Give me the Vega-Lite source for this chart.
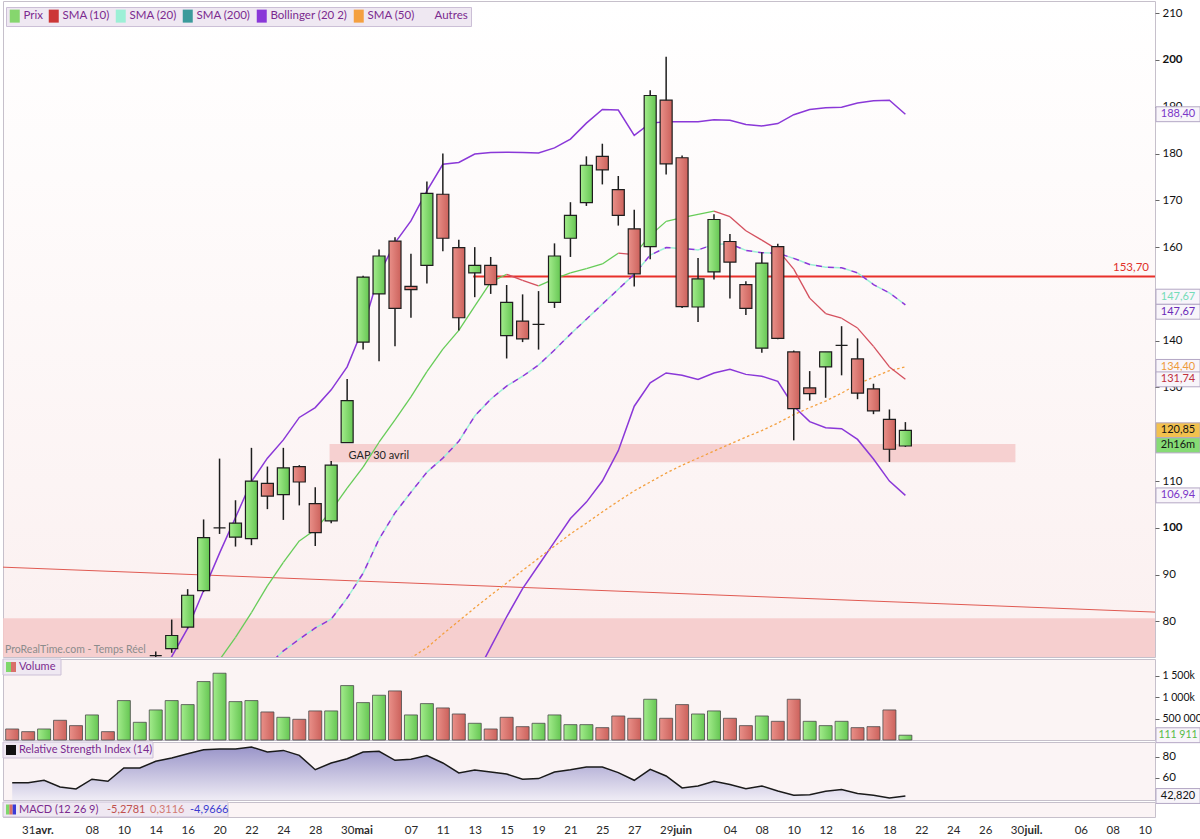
{
"$schema":"https://vega.github.io/schema/vega-lite/v6.json",
"padding":0,
"background":"#ffffff",
"spacing":2,
"bounds":"flush",
"config":{"view":{"stroke":"#c6c0cb","strokeWidth":1},"font":"Lato","text":{"font":"Lato"},"scale":{"continuousPadding":0}},
"datasets":{
"jours":[
{"i":0,"vol":258000,"sens":"baisse","rsi":55.5},
{"i":1,"vol":195000,"sens":"baisse","rsi":55.5},
{"i":2,"vol":258000,"sens":"hausse","rsi":57.8},
{"i":3,"vol":461000,"sens":"baisse","rsi":51.4},
{"i":4,"vol":336000,"sens":"baisse","rsi":49.5},
{"i":5,"vol":586000,"sens":"hausse","rsi":58.8},
{"i":6,"vol":195000,"sens":"baisse","rsi":56.9},
{"i":7,"vol":922000,"sens":"hausse","rsi":69.5},
{"i":8,"vol":414000,"sens":"hausse","rsi":69.5},
{"i":9,"o":72.7,"h":73.6,"l":71.0,"c":72.7,"vol":703000,"sens":"hausse","rsi":75.9,"bbh":67.0},
{"i":10,"o":74.2,"h":80.4,"l":73.3,"c":77.0,"vol":922000,"sens":"hausse","rsi":79.0,"bbh":72.5},
{"i":11,"o":78.8,"h":86.9,"l":78.5,"c":85.6,"vol":828000,"sens":"hausse","rsi":83.1,"bbh":78.5},
{"i":12,"o":86.6,"h":101.8,"l":86.3,"c":97.9,"vol":1367000,"sens":"hausse","rsi":87.0,"sma10":67.0,"bbh":86.6},
{"i":13,"o":100.0,"h":114.8,"l":98.7,"c":100.0,"vol":1562000,"sens":"hausse","rsi":87.6,"sma10":71.8,"bbh":94.6},
{"i":14,"o":98.0,"h":105.9,"l":96.0,"c":101.0,"vol":898000,"sens":"hausse","rsi":87.6,"sma10":76.6,"bbh":102.2},
{"i":15,"o":97.7,"h":117.1,"l":96.3,"c":110.0,"vol":922000,"sens":"hausse","rsi":89.5,"sma10":81.9,"sma20":67.5,"bbh":109.9},
{"i":16,"o":109.5,"h":113.1,"l":104.0,"c":106.8,"vol":656000,"sens":"baisse","rsi":84.8,"sma10":87.6,"sma20":70.5,"bbh":114.9},
{"i":17,"o":107.1,"h":117.1,"l":101.7,"c":112.8,"vol":531000,"sens":"hausse","rsi":86.3,"sma10":92.6,"sma20":73.7,"bbh":118.8},
{"i":18,"o":113.1,"h":113.4,"l":104.8,"c":109.8,"vol":484000,"sens":"baisse","rsi":81.6,"sma10":97.2,"sma20":76.2,"bbh":123.6},
{"i":19,"o":105.2,"h":108.7,"l":96.1,"c":99.0,"vol":680000,"sens":"baisse","rsi":67.9,"sma10":99.6,"sma20":78.6,"bbh":125.7},
{"i":20,"o":101.5,"h":114.3,"l":101.0,"c":113.4,"vol":680000,"sens":"hausse","rsi":74.3,"sma10":103.7,"sma20":80.5,"bbh":129.5},
{"i":21,"o":118.2,"h":131.8,"l":118.2,"c":127.2,"vol":1273000,"sens":"hausse","rsi":78.4,"sma10":108.5,"sma20":85.0,"bbh":134.4},
{"i":22,"o":139.7,"h":153.9,"l":138.1,"c":153.6,"vol":875000,"sens":"hausse","rsi":84.8,"sma10":113.0,"sma20":90.3,"bbh":142.7},
{"i":23,"o":150.0,"h":159.5,"l":135.6,"c":158.1,"vol":1047000,"sens":"hausse","rsi":85.4,"sma10":118.3,"sma20":97.6,"bbh":154.2},
{"i":24,"o":161.3,"h":162.1,"l":138.8,"c":146.9,"vol":1148000,"sens":"baisse","rsi":76.8,"sma10":123.1,"sma20":103.2,"bbh":160.9,"sma50":69.4},
{"i":25,"o":151.6,"h":158.6,"l":144.9,"c":150.9,"vol":586000,"sens":"hausse","rsi":77.8,"sma10":128.0,"sma20":107.6,"bbh":165.6,"sma50":72.2},
{"i":26,"o":156.1,"h":174.0,"l":152.2,"c":171.5,"vol":851000,"sens":"hausse","rsi":81.3,"sma10":133.4,"sma20":111.9,"bbh":172.0,"sma50":74.4},
{"i":27,"o":171.3,"h":180.0,"l":159.1,"c":161.9,"vol":750000,"sens":"baisse","rsi":74.3,"sma10":138.2,"sma20":114.9,"bbh":177.7,"sma50":77.3},
{"i":28,"o":159.9,"h":161.6,"l":142.2,"c":144.9,"vol":609000,"sens":"baisse","rsi":64.8,"sma10":142.2,"sma20":118.5,"bbh":178.1,"sma50":80.1},
{"i":29,"o":154.5,"h":160.0,"l":149.3,"c":156.1,"vol":391000,"sens":"hausse","rsi":67.6,"sma10":147.4,"sma20":123.9,"bbh":179.9,"bbl":68.0,"sma50":82.9},
{"i":30,"o":156.1,"h":157.9,"l":150.0,"c":152.0,"vol":258000,"sens":"baisse","rsi":65.7,"sma10":152.5,"sma20":127.5,"bbh":180.2,"bbl":74.5,"sma50":85.6},
{"i":31,"o":141.1,"h":151.9,"l":136.2,"c":148.2,"vol":531000,"sens":"baisse","rsi":63.8,"sma10":154.2,"sma20":130.3,"bbh":180.3,"bbl":81.0,"sma50":88.2},
{"i":32,"o":144.2,"h":149.9,"l":139.7,"c":140.4,"vol":312000,"sens":"baisse","rsi":58.8,"sma10":152.9,"sma20":132.4,"bbh":180.2,"bbl":87.0,"sma50":90.9},
{"i":33,"o":143.5,"h":150.6,"l":138.1,"c":143.5,"vol":391000,"sens":"hausse","rsi":59.4,"sma10":151.7,"sma20":134.8,"bbh":180.1,"bbl":92.0,"sma50":93.5},
{"i":34,"o":148.2,"h":160.8,"l":147.0,"c":158.1,"vol":586000,"sens":"hausse","rsi":65.7,"sma10":153.2,"sma20":138.0,"bbh":181.2,"bbl":97.0,"sma50":96.1},
{"i":35,"o":161.9,"h":169.6,"l":157.9,"c":166.8,"vol":359000,"sens":"hausse","rsi":67.9,"sma10":154.5,"sma20":141.4,"bbh":183.1,"bbl":102.0,"sma50":98.7},
{"i":36,"o":169.5,"h":179.4,"l":168.8,"c":177.5,"vol":359000,"sens":"hausse","rsi":70.5,"sma10":155.4,"sma20":144.6,"bbh":186.5,"bbl":105.5,"sma50":101.0},
{"i":37,"o":179.4,"h":182.1,"l":173.4,"c":176.5,"vol":289000,"sens":"baisse","rsi":70.5,"sma10":156.4,"sma20":147.8,"bbh":189.4,"bbl":110.0,"sma50":103.4},
{"i":38,"o":172.3,"h":175.2,"l":164.6,"c":166.8,"vol":562000,"sens":"baisse","rsi":65.1,"sma10":158.7,"sma20":151.0,"bbh":189.3,"bbl":116.5,"sma50":105.7},
{"i":39,"o":163.9,"h":168.0,"l":151.6,"c":154.3,"vol":508000,"sens":"baisse","rsi":57.8,"sma10":158.4,"sma20":154.2,"bbh":183.9,"bbl":126.0,"sma50":107.9},
{"i":40,"o":160.1,"h":193.5,"l":157.4,"c":192.4,"vol":953000,"sens":"hausse","rsi":68.3,"sma10":162.5,"sma20":158.3,"bbh":186.5,"bbl":131.0,"sma50":109.8},
{"i":41,"o":191.4,"h":200.7,"l":175.5,"c":177.8,"vol":508000,"sens":"baisse","rsi":61.9,"sma10":165.5,"sma20":159.9,"bbh":186.8,"bbl":133.1,"sma50":111.7},
{"i":42,"o":179.1,"h":179.6,"l":147.0,"c":147.3,"vol":828000,"sens":"baisse","rsi":50.5,"sma10":166.3,"sma20":159.7,"bbh":186.8,"bbl":132.6,"sma50":113.4},
{"i":43,"o":147.2,"h":157.7,"l":144.0,"c":153.2,"vol":609000,"sens":"hausse","rsi":52.4,"sma10":167.0,"sma20":159.4,"bbh":186.8,"bbl":131.7,"sma50":114.9},
{"i":44,"o":154.7,"h":167.0,"l":153.1,"c":165.9,"vol":680000,"sens":"hausse","rsi":56.9,"sma10":167.7,"sma20":160.6,"bbh":187.2,"bbl":133.1,"sma50":116.4},
{"i":45,"o":161.2,"h":162.8,"l":149.0,"c":156.8,"vol":508000,"sens":"baisse","rsi":53.7,"sma10":166.5,"sma20":160.7,"bbh":187.1,"bbl":133.9,"sma50":117.9},
{"i":46,"o":152.0,"h":152.7,"l":145.5,"c":146.9,"vol":336000,"sens":"baisse","rsi":49.8,"sma10":163.5,"sma20":159.3,"bbh":186.2,"bbl":132.8,"sma50":119.4},
{"i":47,"o":138.4,"h":158.9,"l":137.4,"c":156.6,"vol":562000,"sens":"hausse","rsi":52.4,"sma10":161.5,"sma20":158.8,"bbh":185.9,"bbl":132.4,"sma50":120.8},
{"i":48,"o":160.1,"h":160.7,"l":140.3,"c":140.5,"vol":437000,"sens":"baisse","rsi":47.6,"sma10":159.4,"sma20":158.7,"bbh":186.4,"bbl":131.3,"sma50":122.4},
{"i":49,"o":137.6,"h":137.9,"l":118.7,"c":125.5,"vol":953000,"sens":"baisse","rsi":43.5,"sma10":155.3,"sma20":157.6,"bbh":188.3,"bbl":126.0,"sma50":124.2},
{"i":50,"o":129.9,"h":133.5,"l":127.2,"c":128.7,"vol":437000,"sens":"hausse","rsi":44.1,"sma10":149.1,"sma20":156.3,"bbh":189.4,"bbl":122.7,"sma50":125.7},
{"i":51,"o":134.4,"h":137.6,"l":127.8,"c":137.6,"vol":336000,"sens":"hausse","rsi":47.3,"sma10":145.8,"sma20":155.7,"bbh":189.8,"bbl":121.4,"sma50":127.1},
{"i":52,"o":139.0,"h":143.1,"l":132.6,"c":139.0,"vol":437000,"sens":"hausse","rsi":48.9,"sma10":144.8,"sma20":155.6,"bbh":189.9,"bbl":121.2,"sma50":128.8},
{"i":53,"o":136.1,"h":140.5,"l":127.5,"c":128.8,"vol":289000,"sens":"baisse","rsi":45.1,"sma10":142.7,"sma20":154.5,"bbh":190.8,"bbl":118.9,"sma50":130.7},
{"i":54,"o":129.7,"h":130.8,"l":124.3,"c":125.0,"vol":312000,"sens":"baisse","rsi":43.5,"sma10":138.8,"sma20":152.0,"bbh":191.3,"bbl":114.7,"sma50":132.2},
{"i":55,"o":123.2,"h":125.3,"l":114.1,"c":116.8,"vol":703000,"sens":"baisse","rsi":41.0,"sma10":134.4,"sma20":150.2,"bbh":191.4,"bbl":110.0,"sma50":133.6},
{"i":56,"o":117.5,"h":122.6,"l":117.3,"c":120.85,"vol":111911,"sens":"hausse","rsi":42.82,"sma10":131.74,"sma20":147.67,"bbh":188.4,"bbl":106.94,"sma50":134.4}
],
"zones":[
{"nom":"GAP 30 avril","i1":19.9,"i2":62.9,"bas":114.0,"haut":117.9},
{"nom":"zone de support","i1":-0.577,"i2":71.65,"bas":60,"haut":80.7}
],
"lignes":[
{"nom":"tendance","i1":-0.577,"v1":91.6,"i2":71.65,"v2":82.0},
{"nom":"niveau","i1":28.9,"v1":153.7,"i2":71.65,"v2":153.7,"lib":"153,70"}
],
"etiquettes":[
{"panneau":"prix","serie":"bbh","v":188.40,"txt":"188,40"},
{"panneau":"prix","serie":"sma20","v":147.67,"txt":"147,67"},
{"panneau":"prix","serie":"bbm","v":147.67,"txt":"147,67"},
{"panneau":"prix","serie":"sma50","v":134.40,"txt":"134,40"},
{"panneau":"prix","serie":"sma10","v":131.74,"txt":"131,74"},
{"panneau":"prix","serie":"prix","v":120.85,"txt":"120,85"},
{"panneau":"prix","serie":"reste","v":120.85,"txt":"2h16m"},
{"panneau":"prix","serie":"bbl","v":106.94,"txt":"106,94"},
{"panneau":"volume","serie":"volume","v":111911,"txt":"111 911"},
{"panneau":"rsi","serie":"rsi","v":42.82,"txt":"42,820"}
]
},
"vconcat":[
{
"width":1152,"height":656,
"view":{"fill":{"gradient":"linear","x1":0,"y1":0,"x2":0,"y2":1,"stops":[{"offset":0,"color":"#ffffff"},{"offset":1,"color":"#fbf0f0"}]},"stroke":"#c6c0cb"},
"layer":[
{"data":{"name":"zones"},"mark":{"type":"rect","fill":"#f5c9c9","opacity":0.85,"clip":true},
 "encoding":{
  "x":{"field":"i1","type":"quantitative","scale":{"domain":[-0.577,71.65],"nice":false,"zero":false,"padding":0},"axis":null,"title":null},
  "x2":{"field":"i2"},
  "y":{"field":"bas","type":"quantitative","title":null,"scale":{"domain":[72.4,212.6],"nice":false,"zero":false},"axis":{"orient":"right","values":[80,90,100,110,130,140,160,170,180,190,200,210],"tickSize":4,"tickColor":"#666","labelColor":"#111","labelFont":"Lato","labelFontSize":11.5,"labelPadding":3,"domain":false,"grid":false,"labelFontWeight":{"condition":{"test":"datum.value % 100 === 0","value":"bold"},"value":"normal"}}},
  "y2":{"field":"haut"}}},
{"data":{"name":"zones"},"transform":[{"filter":"datum.nom === 'GAP 30 avril'"}],
 "mark":{"type":"text","align":"left","baseline":"middle","dx":19,"dy":12,"fontSize":11,"color":"#262626"},
 "encoding":{
  "x":{"field":"i1","type":"quantitative","scale":{"domain":[-0.577,71.65],"nice":false,"zero":false,"padding":0},"axis":null,"title":null},
  "y":{"field":"haut","type":"quantitative","title":null,"scale":{"domain":[72.4,212.6],"nice":false,"zero":false},"axis":{"orient":"right","values":[80,90,100,110,130,140,160,170,180,190,200,210],"tickSize":4,"tickColor":"#666","labelColor":"#111","labelFont":"Lato","labelFontSize":11.5,"labelPadding":3,"domain":false,"grid":false,"labelFontWeight":{"condition":{"test":"datum.value % 100 === 0","value":"bold"},"value":"normal"}}},
  "text":{"field":"nom"}}},
{"data":{"name":"lignes"},"mark":{"type":"rule","clip":true},
 "encoding":{
  "x":{"field":"i1","type":"quantitative","scale":{"domain":[-0.577,71.65],"nice":false,"zero":false,"padding":0},"axis":null,"title":null},
  "x2":{"field":"i2"},
  "y":{"field":"v1","type":"quantitative","title":null,"scale":{"domain":[72.4,212.6],"nice":false,"zero":false},"axis":{"orient":"right","values":[80,90,100,110,130,140,160,170,180,190,200,210],"tickSize":4,"tickColor":"#666","labelColor":"#111","labelFont":"Lato","labelFontSize":11.5,"labelPadding":3,"domain":false,"grid":false,"labelFontWeight":{"condition":{"test":"datum.value % 100 === 0","value":"bold"},"value":"normal"}}},
  "y2":{"field":"v2"},
  "color":{"condition":{"test":"datum.nom === 'niveau'","value":"#e8302a"},"value":"#e05a52"},
  "strokeWidth":{"condition":{"test":"datum.nom === 'niveau'","value":2},"value":1}}},
{"data":{"name":"lignes"},"transform":[{"filter":"datum.nom === 'niveau'"}],
 "mark":{"type":"text","align":"right","baseline":"middle","dx":-6,"dy":-9,"fontSize":11.5,"color":"#e0302a"},
 "encoding":{
  "x":{"field":"i2","type":"quantitative","scale":{"domain":[-0.577,71.65],"nice":false,"zero":false,"padding":0},"axis":null,"title":null},
  "y":{"field":"v2","type":"quantitative","title":null,"scale":{"domain":[72.4,212.6],"nice":false,"zero":false},"axis":{"orient":"right","values":[80,90,100,110,130,140,160,170,180,190,200,210],"tickSize":4,"tickColor":"#666","labelColor":"#111","labelFont":"Lato","labelFontSize":11.5,"labelPadding":3,"domain":false,"grid":false,"labelFontWeight":{"condition":{"test":"datum.value % 100 === 0","value":"bold"},"value":"normal"}}},
  "text":{"field":"lib"}}},
{"data":{"name":"jours"},"mark":{"type":"line","strokeWidth":1.5,"clip":true},
 "encoding":{
  "x":{"field":"i","type":"quantitative","scale":{"domain":[-0.577,71.65],"nice":false,"zero":false,"padding":0},"axis":null,"title":null},
  "y":{"field":"bbh","type":"quantitative","title":null,"scale":{"domain":[72.4,212.6],"nice":false,"zero":false},"axis":{"orient":"right","values":[80,90,100,110,130,140,160,170,180,190,200,210],"tickSize":4,"tickColor":"#666","labelColor":"#111","labelFont":"Lato","labelFontSize":11.5,"labelPadding":3,"domain":false,"grid":false,"labelFontWeight":{"condition":{"test":"datum.value % 100 === 0","value":"bold"},"value":"normal"}}},
  "color":{"datum":"Bollinger (20 2)","type":"nominal",
   "scale":{"domain":["Prix","SMA (10)","SMA (20)","SMA (200)","Bollinger (20 2)","SMA (50)","Autres"],"range":["#86d66e","#cc3636","#9cf0d6","#3b9b9b","#8a38d8","#f4a040","transparent"]},
   "legend":{"orient":"none","legendX":3,"legendY":6,"direction":"horizontal","title":null,"padding":3,"fillColor":"#efe8f2","strokeColor":"#cbbfd6","symbolType":"M-1,-1.3H1V1.3H-1Z","symbolSize":100,"symbolStrokeWidth":0,"labelFont":"Lato","labelFontSize":11.5,"labelColor":"#7b2a8f","labelOffset":3,"columnPadding":5,
    "encode":{"symbols":{"update":{"fill":{"scale":"color","field":"value"},"opacity":{"value":1}}}}}}}},
{"data":{"name":"jours"},"mark":{"type":"line","strokeWidth":1.5,"clip":true},
 "encoding":{
  "x":{"field":"i","type":"quantitative","scale":{"domain":[-0.577,71.65],"nice":false,"zero":false,"padding":0},"axis":null,"title":null},
  "y":{"field":"bbl","type":"quantitative","title":null,"scale":{"domain":[72.4,212.6],"nice":false,"zero":false},"axis":{"orient":"right","values":[80,90,100,110,130,140,160,170,180,190,200,210],"tickSize":4,"tickColor":"#666","labelColor":"#111","labelFont":"Lato","labelFontSize":11.5,"labelPadding":3,"domain":false,"grid":false,"labelFontWeight":{"condition":{"test":"datum.value % 100 === 0","value":"bold"},"value":"normal"}}},
  "color":{"datum":"Bollinger (20 2)","type":"nominal"}}},
{"data":{"name":"jours"},"mark":{"type":"line","strokeWidth":1.5,"strokeDash":[6,6],"clip":true},
 "encoding":{
  "x":{"field":"i","type":"quantitative","scale":{"domain":[-0.577,71.65],"nice":false,"zero":false,"padding":0},"axis":null,"title":null},
  "y":{"field":"sma20","type":"quantitative","title":null,"scale":{"domain":[72.4,212.6],"nice":false,"zero":false},"axis":{"orient":"right","values":[80,90,100,110,130,140,160,170,180,190,200,210],"tickSize":4,"tickColor":"#666","labelColor":"#111","labelFont":"Lato","labelFontSize":11.5,"labelPadding":3,"domain":false,"grid":false,"labelFontWeight":{"condition":{"test":"datum.value % 100 === 0","value":"bold"},"value":"normal"}}},
  "color":{"datum":"SMA (20)","type":"nominal"}}},
{"data":{"name":"jours"},"mark":{"type":"line","strokeWidth":1.5,"strokeDash":[6,6],"strokeDashOffset":6,"clip":true},
 "encoding":{
  "x":{"field":"i","type":"quantitative","scale":{"domain":[-0.577,71.65],"nice":false,"zero":false,"padding":0},"axis":null,"title":null},
  "y":{"field":"sma20","type":"quantitative","title":null,"scale":{"domain":[72.4,212.6],"nice":false,"zero":false},"axis":{"orient":"right","values":[80,90,100,110,130,140,160,170,180,190,200,210],"tickSize":4,"tickColor":"#666","labelColor":"#111","labelFont":"Lato","labelFontSize":11.5,"labelPadding":3,"domain":false,"grid":false,"labelFontWeight":{"condition":{"test":"datum.value % 100 === 0","value":"bold"},"value":"normal"}}},
  "color":{"datum":"Bollinger (20 2)","type":"nominal"}}},
{"data":{"name":"jours"},"mark":{"type":"line","strokeWidth":1.3,"strokeDash":[2.5,2.5],"clip":true},
 "encoding":{
  "x":{"field":"i","type":"quantitative","scale":{"domain":[-0.577,71.65],"nice":false,"zero":false,"padding":0},"axis":null,"title":null},
  "y":{"field":"sma50","type":"quantitative","title":null,"scale":{"domain":[72.4,212.6],"nice":false,"zero":false},"axis":{"orient":"right","values":[80,90,100,110,130,140,160,170,180,190,200,210],"tickSize":4,"tickColor":"#666","labelColor":"#111","labelFont":"Lato","labelFontSize":11.5,"labelPadding":3,"domain":false,"grid":false,"labelFontWeight":{"condition":{"test":"datum.value % 100 === 0","value":"bold"},"value":"normal"}}},
  "color":{"datum":"SMA (50)","type":"nominal"}}},
{"data":{"name":"jours"},
 "transform":[{"filter":"isValid(datum.sma10)"},{"window":[{"op":"lead","field":"sma10","as":"sma10_suiv"},{"op":"lead","field":"i","as":"i_suiv"}],"sort":[{"field":"i","order":"ascending"}]},{"filter":"isValid(datum.sma10_suiv)"}],
 "mark":{"type":"rule","strokeWidth":1.3,"clip":true},
 "encoding":{
  "x":{"field":"i","type":"quantitative","scale":{"domain":[-0.577,71.65],"nice":false,"zero":false,"padding":0},"axis":null,"title":null},
  "x2":{"field":"i_suiv"},
  "y":{"field":"sma10","type":"quantitative","title":null,"scale":{"domain":[72.4,212.6],"nice":false,"zero":false},"axis":{"orient":"right","values":[80,90,100,110,130,140,160,170,180,190,200,210],"tickSize":4,"tickColor":"#666","labelColor":"#111","labelFont":"Lato","labelFontSize":11.5,"labelPadding":3,"domain":false,"grid":false,"labelFontWeight":{"condition":{"test":"datum.value % 100 === 0","value":"bold"},"value":"normal"}}},
  "y2":{"field":"sma10_suiv"},
  "color":{"condition":{"test":"datum.sma10_suiv >= datum.sma10","value":"#66cc58"},"value":"#d4505e"}}},
{"data":{"name":"jours"},"transform":[{"filter":"isValid(datum.o)"}],
 "mark":{"type":"rule","stroke":"#1e1e1e","strokeWidth":1.5,"clip":true},
 "encoding":{
  "x":{"field":"i","type":"quantitative","scale":{"domain":[-0.577,71.65],"nice":false,"zero":false,"padding":0},"axis":null,"title":null},
  "y":{"field":"l","type":"quantitative","title":null,"scale":{"domain":[72.4,212.6],"nice":false,"zero":false},"axis":{"orient":"right","values":[80,90,100,110,130,140,160,170,180,190,200,210],"tickSize":4,"tickColor":"#666","labelColor":"#111","labelFont":"Lato","labelFontSize":11.5,"labelPadding":3,"domain":false,"grid":false,"labelFontWeight":{"condition":{"test":"datum.value % 100 === 0","value":"bold"},"value":"normal"}}},
  "y2":{"field":"h"}}},
{"data":{"name":"jours"},"transform":[{"filter":"isValid(datum.o)"}],
 "mark":{"type":"bar","size":12,"stroke":"#1e1e1e","strokeWidth":1.2,"clip":true},
 "encoding":{
  "x":{"field":"i","type":"quantitative","scale":{"domain":[-0.577,71.65],"nice":false,"zero":false,"padding":0},"axis":null,"title":null},
  "y":{"field":"o","type":"quantitative","title":null,"scale":{"domain":[72.4,212.6],"nice":false,"zero":false},"axis":{"orient":"right","values":[80,90,100,110,130,140,160,170,180,190,200,210],"tickSize":4,"tickColor":"#666","labelColor":"#111","labelFont":"Lato","labelFontSize":11.5,"labelPadding":3,"domain":false,"grid":false,"labelFontWeight":{"condition":{"test":"datum.value % 100 === 0","value":"bold"},"value":"normal"}}},
  "y2":{"field":"c"},
  "fill":{"condition":[
    {"test":"datum.c > datum.o","value":{"gradient":"linear","x1":0,"y1":0,"x2":1,"y2":0,"stops":[{"offset":0,"color":"#a3ec8c"},{"offset":1,"color":"#66c653"}]}},
    {"test":"datum.c < datum.o","value":{"gradient":"linear","x1":0,"y1":0,"x2":1,"y2":0,"stops":[{"offset":0,"color":"#e99089"},{"offset":1,"color":"#cc625c"}]}}],
   "value":"#1e1e1e"}}},
{"data":{"values":[{"source":"ProRealTime.com - Temps Réel"}]},
 "mark":{"type":"text","align":"left","baseline":"middle","dx":2,"dy":-7,"fontSize":10.5,"color":"#8c8c8c"},
 "encoding":{
  "x":{"datum":-0.577,"type":"quantitative","scale":{"domain":[-0.577,71.65],"nice":false,"zero":false,"padding":0},"axis":null,"title":null},
  "y":{"datum":72.4,"type":"quantitative","title":null,"scale":{"domain":[72.4,212.6],"nice":false,"zero":false},"axis":{"orient":"right","values":[80,90,100,110,130,140,160,170,180,190,200,210],"tickSize":4,"tickColor":"#666","labelColor":"#111","labelFont":"Lato","labelFontSize":11.5,"labelPadding":3,"domain":false,"grid":false,"labelFontWeight":{"condition":{"test":"datum.value % 100 === 0","value":"bold"},"value":"normal"}}},
  "text":{"field":"source"}}},
{"data":{"name":"etiquettes"},"transform":[{"filter":"datum.panneau === 'prix'"}],
 "mark":{"type":"point","filled":true,"size":2304,"stroke":"#b3a7c4","strokeWidth":1,"opacity":1},
 "encoding":{
  "x":{"value":"width"},
  "y":{"field":"v","type":"quantitative","title":null,"scale":{"domain":[72.4,212.6],"nice":false,"zero":false},"axis":{"orient":"right","values":[80,90,100,110,130,140,160,170,180,190,200,210],"tickSize":4,"tickColor":"#666","labelColor":"#111","labelFont":"Lato","labelFontSize":11.5,"labelPadding":3,"domain":false,"grid":false,"labelFontWeight":{"condition":{"test":"datum.value % 100 === 0","value":"bold"},"value":"normal"}}},
  "shape":{"condition":[
    {"test":"datum.serie === 'sma20'","value":"M0.04,-0.65H1.88V-0.02H0.04Z"},
    {"test":"datum.serie === 'bbm'","value":"M0.04,-0.02H1.88V0.6H0.04Z"},
    {"test":"datum.serie === 'reste'","value":"M0.04,0.31H1.88V0.94H0.04Z"}],
   "value":"M0.04,-0.31H1.88V0.31H0.04Z"},
  "fill":{"condition":[
    {"test":"datum.serie === 'prix'","value":"#f2c14e"},
    {"test":"datum.serie === 'reste'","value":"#86db75"}],
   "value":"#f8f5fa"}}},
{"data":{"name":"etiquettes"},"transform":[{"filter":"datum.panneau === 'prix' && datum.serie !== 'sma20' && datum.serie !== 'bbm' && datum.serie !== 'reste'"}],
 "mark":{"type":"text","align":"center","baseline":"middle","dx":23,"fontSize":11},
 "encoding":{
  "x":{"value":"width"},
  "y":{"field":"v","type":"quantitative","title":null,"scale":{"domain":[72.4,212.6],"nice":false,"zero":false},"axis":{"orient":"right","values":[80,90,100,110,130,140,160,170,180,190,200,210],"tickSize":4,"tickColor":"#666","labelColor":"#111","labelFont":"Lato","labelFontSize":11.5,"labelPadding":3,"domain":false,"grid":false,"labelFontWeight":{"condition":{"test":"datum.value % 100 === 0","value":"bold"},"value":"normal"}}},
  "text":{"field":"txt"},
  "color":{"condition":[
    {"test":"datum.serie === 'bbh' || datum.serie === 'bbl'","value":"#7b35c8"},
    {"test":"datum.serie === 'sma50'","value":"#ee9a3a"},
    {"test":"datum.serie === 'sma10'","value":"#c0303c"}],
   "value":"#141414"}}},
{"data":{"name":"etiquettes"},"transform":[{"filter":"datum.serie === 'sma20'"}],
 "mark":{"type":"text","align":"center","baseline":"middle","dx":23,"dy":-8,"fontSize":11,"color":"#74dcb8"},
 "encoding":{
  "x":{"value":"width"},
  "y":{"field":"v","type":"quantitative","title":null,"scale":{"domain":[72.4,212.6],"nice":false,"zero":false},"axis":{"orient":"right","values":[80,90,100,110,130,140,160,170,180,190,200,210],"tickSize":4,"tickColor":"#666","labelColor":"#111","labelFont":"Lato","labelFontSize":11.5,"labelPadding":3,"domain":false,"grid":false,"labelFontWeight":{"condition":{"test":"datum.value % 100 === 0","value":"bold"},"value":"normal"}}},
  "text":{"field":"txt"}}},
{"data":{"name":"etiquettes"},"transform":[{"filter":"datum.serie === 'bbm'"}],
 "mark":{"type":"text","align":"center","baseline":"middle","dx":23,"dy":7,"fontSize":11,"color":"#6b2ab8"},
 "encoding":{
  "x":{"value":"width"},
  "y":{"field":"v","type":"quantitative","title":null,"scale":{"domain":[72.4,212.6],"nice":false,"zero":false},"axis":{"orient":"right","values":[80,90,100,110,130,140,160,170,180,190,200,210],"tickSize":4,"tickColor":"#666","labelColor":"#111","labelFont":"Lato","labelFontSize":11.5,"labelPadding":3,"domain":false,"grid":false,"labelFontWeight":{"condition":{"test":"datum.value % 100 === 0","value":"bold"},"value":"normal"}}},
  "text":{"field":"txt"}}},
{"data":{"name":"etiquettes"},"transform":[{"filter":"datum.serie === 'reste'"}],
 "mark":{"type":"text","align":"center","baseline":"middle","dx":23,"dy":15,"fontSize":11,"color":"#141414"},
 "encoding":{
  "x":{"value":"width"},
  "y":{"field":"v","type":"quantitative","title":null,"scale":{"domain":[72.4,212.6],"nice":false,"zero":false},"axis":{"orient":"right","values":[80,90,100,110,130,140,160,170,180,190,200,210],"tickSize":4,"tickColor":"#666","labelColor":"#111","labelFont":"Lato","labelFontSize":11.5,"labelPadding":3,"domain":false,"grid":false,"labelFontWeight":{"condition":{"test":"datum.value % 100 === 0","value":"bold"},"value":"normal"}}},
  "text":{"field":"txt"}}}
]
},
{
"width":1152,"height":81,
"view":{"fill":"#fbf4f4","stroke":"#c6c0cb"},
"layer":[
{"data":{"name":"jours"},
 "mark":{"type":"bar","size":13,"stroke":"#4a4a4a","strokeWidth":0.8},
 "encoding":{
  "x":{"field":"i","type":"quantitative","scale":{"domain":[-0.577,71.65],"nice":false,"zero":false,"padding":0},"axis":null,"title":null},
  "y":{"field":"vol","type":"quantitative","title":null,"scale":{"domain":[0,1895000],"nice":false},"axis":{"orient":"right","values":[500000,1000000,1500000],"labelExpr":"datum.value === 1500000 ? '1 500k' : datum.value === 1000000 ? '1 000k' : '500 000'","tickSize":4,"tickColor":"#666","labelColor":"#111","labelFont":"Lato","labelFontSize":10.5,"labelPadding":3,"domain":false,"grid":false}},
  "fill":{"condition":{"test":"datum.sens === 'hausse'","value":{"gradient":"linear","x1":0,"y1":0,"x2":1,"y2":0,"stops":[{"offset":0,"color":"#a3ec8c"},{"offset":1,"color":"#66c653"}]}},
   "value":{"gradient":"linear","x1":0,"y1":0,"x2":1,"y2":0,"stops":[{"offset":0,"color":"#e99089"},{"offset":1,"color":"#cc625c"}]}}}},
{"data":{"name":"etiquettes"},"transform":[{"filter":"datum.panneau === 'volume'"}],
 "encoding":{
  "x":{"value":"width"},
  "y":{"field":"v","type":"quantitative","title":null,"scale":{"domain":[0,1895000],"nice":false},"axis":{"orient":"right","values":[500000,1000000,1500000],"labelExpr":"datum.value === 1500000 ? '1 500k' : datum.value === 1000000 ? '1 000k' : '500 000'","tickSize":4,"tickColor":"#666","labelColor":"#111","labelFont":"Lato","labelFontSize":10.5,"labelPadding":3,"domain":false,"grid":false}}},
 "layer":[
  {"mark":{"type":"point","filled":true,"size":2304,"stroke":"#b3a7c4","strokeWidth":1,"opacity":1,"fill":"#f8f5fa","shape":"M0.04,-0.31H1.88V0.31H0.04Z"}},
  {"mark":{"type":"text","align":"center","baseline":"middle","dx":23,"fontSize":10.5,"color":"#55bb44"},"encoding":{"text":{"field":"txt"}}}
 ]},
{"data":{"values":[{"titre":"Volume"}]},
 "encoding":{
  "x":{"datum":-0.577,"type":"quantitative","scale":{"domain":[-0.577,71.65],"nice":false,"zero":false,"padding":0},"axis":null,"title":null},
  "y":{"datum":1895000,"type":"quantitative","title":null,"scale":{"domain":[0,1895000],"nice":false},"axis":{"orient":"right","values":[500000,1000000,1500000],"labelExpr":"datum.value === 1500000 ? '1 500k' : datum.value === 1000000 ? '1 000k' : '500 000'","tickSize":4,"tickColor":"#666","labelColor":"#111","labelFont":"Lato","labelFontSize":10.5,"labelPadding":3,"domain":false,"grid":false}}},
 "layer":[
  {"mark":{"type":"point","filled":true,"size":10000,"fill":"#efe8f2","stroke":"#cbbfd6","strokeWidth":1,"opacity":1,"shape":"M0,0H1.16V0.32H0Z"}},
  {"mark":{"type":"point","filled":true,"size":10000,"fill":"#7fd86c","strokeWidth":0,"opacity":1,"shape":"M0.06,0.06H0.16V0.26H0.06Z"}},
  {"mark":{"type":"point","filled":true,"size":10000,"fill":"#d9706a","strokeWidth":0,"opacity":1,"shape":"M0.16,0.06H0.26V0.26H0.16Z"}},
  {"mark":{"type":"text","align":"left","baseline":"middle","dx":16,"dy":8,"fontSize":11,"color":"#7b2a8f"},"encoding":{"text":{"field":"titre"}}}
 ]}
]
},
{
"width":1152,"height":58,
"view":{"fill":"#fbf4f5","stroke":"#c6c0cb"},
"layer":[
{"data":{"name":"jours"},
 "mark":{"type":"area","clip":true,"line":false,"fill":{"gradient":"linear","x1":0,"y1":0,"x2":0,"y2":1,"stops":[{"offset":0,"color":"#9a95c9"},{"offset":1,"color":"#efecf5"}]}},
 "encoding":{
  "x":{"field":"i","type":"quantitative","scale":{"domain":[-0.577,71.65],"nice":false,"zero":false,"padding":0},"axis":null,"title":null},
  "y":{"field":"rsi","type":"quantitative","title":null,"scale":{"domain":[39,94.3],"nice":false,"zero":false},"axis":{"orient":"right","values":[60,80],"tickSize":4,"tickColor":"#666","labelColor":"#111","labelFont":"Lato","labelFontSize":11.5,"labelPadding":3,"domain":false,"grid":false}},
  "y2":{"datum":39}}},
{"data":{"name":"jours"},
 "mark":{"type":"line","stroke":"#1a1a1a","strokeWidth":1.5,"clip":true},
 "encoding":{
  "x":{"field":"i","type":"quantitative","scale":{"domain":[-0.577,71.65],"nice":false,"zero":false,"padding":0},"axis":null,"title":null},
  "y":{"field":"rsi","type":"quantitative","title":null,"scale":{"domain":[39,94.3],"nice":false,"zero":false},"axis":{"orient":"right","values":[60,80],"tickSize":4,"tickColor":"#666","labelColor":"#111","labelFont":"Lato","labelFontSize":11.5,"labelPadding":3,"domain":false,"grid":false}}}},
{"data":{"name":"etiquettes"},"transform":[{"filter":"datum.panneau === 'rsi'"}],
 "encoding":{
  "x":{"value":"width"},
  "y":{"field":"v","type":"quantitative","title":null,"scale":{"domain":[39,94.3],"nice":false,"zero":false},"axis":{"orient":"right","values":[60,80],"tickSize":4,"tickColor":"#666","labelColor":"#111","labelFont":"Lato","labelFontSize":11.5,"labelPadding":3,"domain":false,"grid":false}}},
 "layer":[
  {"mark":{"type":"point","filled":true,"size":2304,"stroke":"#b3a7c4","strokeWidth":1,"opacity":1,"fill":"#f8f5fa","shape":"M0.04,-0.31H1.88V0.31H0.04Z"}},
  {"mark":{"type":"text","align":"center","baseline":"middle","dx":23,"fontSize":11,"color":"#141414"},"encoding":{"text":{"field":"txt"}}}
 ]},
{"data":{"values":[{"titre":"Relative Strength Index (14)"}]},
 "encoding":{
  "x":{"datum":-0.577,"type":"quantitative","scale":{"domain":[-0.577,71.65],"nice":false,"zero":false,"padding":0},"axis":null,"title":null},
  "y":{"datum":94.3,"type":"quantitative","title":null,"scale":{"domain":[39,94.3],"nice":false,"zero":false},"axis":{"orient":"right","values":[60,80],"tickSize":4,"tickColor":"#666","labelColor":"#111","labelFont":"Lato","labelFontSize":11.5,"labelPadding":3,"domain":false,"grid":false}}},
 "layer":[
  {"mark":{"type":"point","filled":true,"size":10000,"fill":"#efe8f2","stroke":"#cbbfd6","strokeWidth":1,"opacity":1,"shape":"M0,0H3.0V0.32H0Z"}},
  {"mark":{"type":"point","filled":true,"size":10000,"fill":"#111111","strokeWidth":0,"opacity":1,"shape":"M0.06,0.06H0.26V0.26H0.06Z"}},
  {"mark":{"type":"text","align":"left","baseline":"middle","dx":16,"dy":8,"fontSize":11,"color":"#7b2a8f"},"encoding":{"text":{"field":"titre"}}}
 ]}
]
},
{
"width":1152,"height":15,
"view":{"fill":"#fbf4f5","stroke":"#c6c0cb"},
"data":{"values":[{"titre":"MACD (12 26 9)","macd":"-5,2781","ecart":"0,3116","signal":"-4,9666"}]},
"encoding":{
  "x":{"datum":-0.577,"type":"quantitative","title":null,"scale":{"domain":[-0.577,71.65],"nice":false,"zero":false,"padding":0},
   "axis":{"orient":"bottom","values":[1,2,5,7,9,11,13,15,17,19,21,22,25,27,29,31,33,35,37,39,41,42,45,47,49,51,53,55,57,59,61,63,64,67,69,71],
    "labelExpr":"['','31','avr.','','','08','','10','','14','','16','','20','','22','','24','','28','','30','mai','','','07','','11','','13','','15','','19','','21','','25','','27','','29','juin','','','04','','08','','10','','12','','16','','18','','22','','24','','26','','30','juil.','','','06','','08','','10'][datum.value]",
    "labelOverlap":false,"labelBound":false,"labelFlush":false,"ticks":false,"domain":false,"grid":false,"labelFont":"Lato","labelFontSize":11.5,"labelColor":"#2a2a2a","labelPadding":7,
    "labelFontWeight":{"condition":{"test":"datum.value === 2 || datum.value === 22 || datum.value === 42 || datum.value === 64","value":"bold"},"value":"normal"}}},
  "y":{"datum":1,"type":"quantitative","title":null,"scale":{"domain":[0,1],"nice":false,"zero":false},"axis":null}},
"layer":[
  {"mark":{"type":"point","filled":true,"size":10000,"fill":"#efe8f2","stroke":"#cbbfd6","strokeWidth":1,"opacity":1,"shape":"M0,0H4.5V0.3H0Z"}},
  {"mark":{"type":"point","filled":true,"size":10000,"fill":"#7fd86c","strokeWidth":0,"opacity":1,"shape":"M0.06,0.05H0.127V0.25H0.06Z"}},
  {"mark":{"type":"point","filled":true,"size":10000,"fill":"#d9706a","strokeWidth":0,"opacity":1,"shape":"M0.127,0.05H0.193V0.25H0.127Z"}},
  {"mark":{"type":"point","filled":true,"size":10000,"fill":"#3b3bd6","strokeWidth":0,"opacity":1,"shape":"M0.193,0.05H0.26V0.25H0.193Z"}},
  {"mark":{"type":"text","align":"left","baseline":"middle","dx":16,"dy":7.5,"fontSize":11,"color":"#7b2a8f"},"encoding":{"text":{"field":"titre"}}},
  {"mark":{"type":"text","align":"left","baseline":"middle","dx":104,"dy":7.5,"fontSize":11,"color":"#c0504d"},"encoding":{"text":{"field":"macd"}}},
  {"mark":{"type":"text","align":"left","baseline":"middle","dx":147,"dy":7.5,"fontSize":11,"color":"#d27a72"},"encoding":{"text":{"field":"ecart"}}},
  {"mark":{"type":"text","align":"left","baseline":"middle","dx":187,"dy":7.5,"fontSize":11,"color":"#3a3ad0"},"encoding":{"text":{"field":"signal"}}}
]
}
]
}
